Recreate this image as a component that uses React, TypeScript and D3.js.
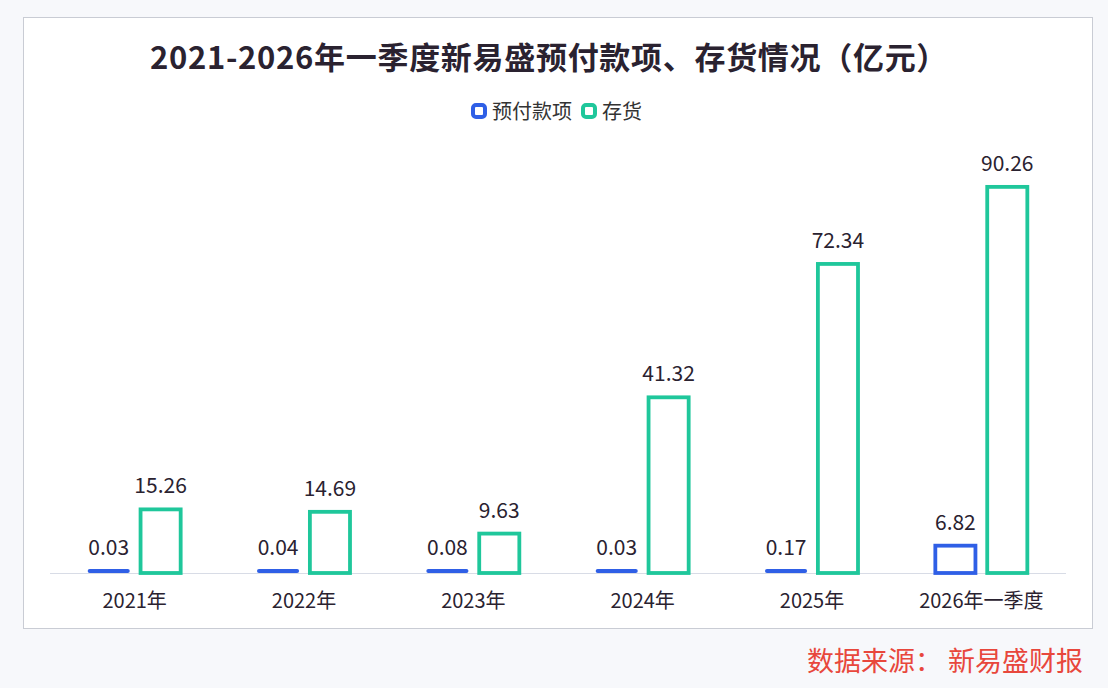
import { useEffect, useRef } from "react";
import * as d3 from "d3";

const categories = ["2021年", "2022年", "2023年", "2024年", "2025年", "2026年一季度"];
const prepayments = [0.03, 0.04, 0.08, 0.03, 0.17, 6.82];
const inventory = [15.26, 14.69, 9.63, 41.32, 72.34, 90.26];
const seriesNames = ["预付款项", "存货"];
const seriesColors = ["#2f5fe6", "#1fc79b"];

export default function App() {
  const svgRef = useRef<SVGSVGElement>(null);

  useEffect(() => {
    if (!svgRef.current) return;
    document.body.style.margin = "0";
    d3.select(svgRef.current).selectAll("*").remove();

    const width = 1108;
    const height = 688;
    const font = "'Noto Sans CJK SC', 'Noto Sans', sans-serif";

    const svg = d3.select(svgRef.current)
      .attr("width", width)
      .attr("height", height)
      .attr("viewBox", `0 0 ${width} ${height}`)
      .style("font-family", font)
      .style("display", "block");

    svg.append("rect").attr("width", width).attr("height", height).attr("fill", "#f7f8fb");

    // Chart frame
    svg.append("rect")
      .attr("x", 23.5).attr("y", 17.5)
      .attr("width", 1069).attr("height", 611)
      .attr("fill", "#ffffff")
      .attr("stroke", "#c9ccd4")
      .attr("stroke-width", 1);

    // Title
    svg.append("text")
      .attr("x", 549).attr("y", 69)
      .attr("text-anchor", "middle")
      .style("font-size", "31px")
      .style("letter-spacing", "0.7px")
      .style("font-weight", "bold")
      .style("fill", "#2a2230")
      .text("2021-2026年一季度新易盛预付款项、存货情况（亿元）");

    // Legend
    const legendItems = [
      { name: seriesNames[0], x: 471 },
      { name: seriesNames[1], x: 581 },
    ];
    legendItems.forEach((it, i) => {
      svg.append("rect")
        .attr("x", it.x + 2).attr("y", 105)
        .attr("width", 12).attr("height", 12)
        .attr("rx", 3)
        .attr("fill", "#fff")
        .attr("stroke", seriesColors[i])
        .attr("stroke-width", 4);
      svg.append("text")
        .attr("x", it.x + 21).attr("y", 119)
        .style("font-size", "20px")
        .style("fill", "#333")
        .text(it.name);
    });

    const x0 = d3.scaleBand().domain(categories).range([50, 1066]).padding(0);
    const x1 = d3.scaleBand().domain(seriesNames).range([0, 96]).paddingInner(0.15);
    const y = d3.scaleLinear().domain([0, 100]).range([573, 143]);

    // Baseline
    svg.append("line")
      .attr("x1", 50).attr("x2", 1066)
      .attr("y1", 573.5).attr("y2", 573.5)
      .attr("stroke", "#d8dce6");

    const groups = svg.selectAll(".grp")
      .data(categories)
      .enter().append("g")
      .attr("transform", d => `translate(${(x0(d) as number) + x0.bandwidth() / 2 - 48},0)`);

    const seriesData = [prepayments, inventory];
    groups.each(function (cat, ci) {
      const g = d3.select(this);
      seriesData.forEach((vals, si) => {
        const v = vals[ci];
        const bx = x1(seriesNames[si]) as number;
        const bw = x1.bandwidth();
        const hRaw = y(0) - y(v);
        if (hRaw < 6) {
          g.append("rect")
            .attr("x", bx + 1).attr("y", y(0) - 4)
            .attr("width", bw - 2).attr("height", 4)
            .attr("rx", 2)
            .attr("fill", seriesColors[si]);
        } else {
          g.append("rect")
            .attr("x", bx + 2).attr("y", y(v) + 2)
            .attr("width", bw - 4).attr("height", hRaw - 2)
            .attr("fill", "#fff")
            .attr("stroke", seriesColors[si])
            .attr("stroke-width", 3.8);
        }
        const top = hRaw < 6 ? y(0) - 4 : y(v);
        g.append("text")
          .attr("x", bx + bw / 2)
          .attr("y", top - 14)
          .attr("text-anchor", "middle")
          .style("font-size", "21px")
          .style("fill", "#2a2230")
          .text(v.toFixed(2));
      });
    });

    // X labels
    svg.selectAll(".xl")
      .data(categories)
      .enter().append("text")
      .attr("x", d => (x0(d) as number) + x0.bandwidth() / 2)
      .attr("y", 608)
      .attr("text-anchor", "middle")
      .style("font-size", "20px")
      .style("fill", "#2a2230")
      .text(d => d);

    // Source
    svg.append("text")
      .attr("x", 1083).attr("y", 671)
      .attr("text-anchor", "end")
      .style("font-size", "27px")
      .style("fill", "#e8473c")
      .text("数据来源： 新易盛财报");
  }, []);

  return <svg ref={svgRef}></svg>;
}
